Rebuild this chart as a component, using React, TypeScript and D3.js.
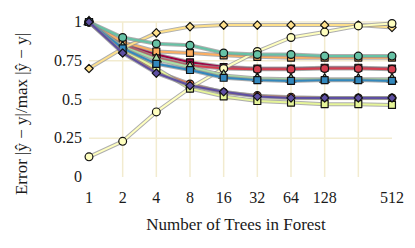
import React from "react";
import * as d3 from "d3";

const trees = [1, 2, 4, 8, 16, 32, 64, 128, 256, 512];
const tickLabels = [1, 2, 4, 8, 16, 32, 64, 128, 512];
const gridX = [2, 4, 8, 16, 32, 64, 128, 256];
const yTicks = [0, 0.25, 0.5, 0.75, 1];

const crimson = [1, 0.86, 0.79, 0.74, 0.71, 0.7, 0.7, 0.705, 0.705, 0.7];
const red = [1, 0.85, 0.77, 0.72, 0.7, 0.695, 0.695, 0.7, 0.7, 0.695];
const orangeRed = [1, 0.81, 0.68, 0.6, 0.545, 0.525, 0.515, 0.51, 0.51, 0.51];
const orange = [1, 0.87, 0.81, 0.8, 0.785, 0.775, 0.77, 0.77, 0.77, 0.77];
const gold = [0.7, 0.83, 0.93, 0.97, 0.98, 0.98, 0.98, 0.98, 0.98, 0.965];
const cream = [0.13, 0.23, 0.42, 0.575, 0.7, 0.81, 0.9, 0.935, 0.975, 0.99];
const lime = [1, 0.82, 0.7, 0.57, 0.52, 0.49, 0.48, 0.47, 0.47, 0.465];
const green = [1, 0.84, 0.76, 0.71, 0.655, 0.635, 0.63, 0.63, 0.63, 0.63];
const teal = [1, 0.9, 0.86, 0.85, 0.8, 0.79, 0.79, 0.78, 0.78, 0.78];
const blue = [1, 0.83, 0.73, 0.69, 0.64, 0.625, 0.62, 0.625, 0.625, 0.62];
const purple = [1, 0.8, 0.67, 0.59, 0.55, 0.52, 0.51, 0.51, 0.51, 0.51];

type Series = { values: number[]; color: string; mark: string };

const series: Series[] = [
  { values: crimson, color: "#9e0142", mark: "square" },
  { values: red, color: "#d53e4f", mark: "circle" },
  { values: orangeRed, color: "#f46d43", mark: "circle" },
  { values: orange, color: "#fdae61", mark: "square" },
  { values: gold, color: "#fee08b", mark: "diamond" },
  { values: cream, color: "#ffffbf", mark: "circle" },
  { values: lime, color: "#e6f598", mark: "square" },
  { values: green, color: "#abdda4", mark: "triangle" },
  { values: teal, color: "#66c2a5", mark: "circle" },
  { values: blue, color: "#3288bd", mark: "square" },
  { values: purple, color: "#5e4fa2", mark: "diamond" },
];

const W = 415;
const H = 248;
const font = "'Liberation Serif', serif";

const x = d3.scaleLog().base(2).domain([1, 512]).range([89, 392]);
const y = d3.scaleLinear().domain([0, 1]).range([177, 22]);

const symbols: Record<string, d3.SymbolType> = {
  circle: d3.symbolCircle,
  square: d3.symbolSquare,
  diamond: d3.symbolDiamond2,
  triangle: d3.symbolTriangle,
};
const sizes: Record<string, number> = {
  circle: 48,
  square: 48,
  diamond: 44,
  triangle: 42,
};

const line = d3
  .line<number>()
  .x((_, i) => x(trees[i]))
  .y((d) => y(d));

const App = () => {
  return (
    <svg
      width={W}
      height={H}
      style={{ position: "absolute", left: 0, top: 0, background: "#fff" }}
    >
      <g stroke="#f2ebcf" strokeWidth={1.5}>
        {gridX.map((t) => (
          <line key={"gx" + t} x1={x(t)} x2={x(t)} y1={y(1)} y2={y(0)} />
        ))}
        {yTicks
          .filter((t) => t > 0)
          .map((t) => (
            <line key={"gy" + t} x1={x(1)} x2={x(512)} y1={y(t)} y2={y(t)} />
          ))}
      </g>

      {series.map((s, si) => (
        <g key={si}>
          <path
            d={line(s.values) || ""}
            fill="none"
            stroke="#8c8c8c"
            strokeOpacity={0.7}
            strokeWidth={4}
            strokeLinejoin="round"
          />
          <path
            d={line(s.values) || ""}
            fill="none"
            stroke={s.color}
            strokeWidth={2}
            strokeLinejoin="round"
          />
          {s.values.map((v, i) => (
            <path
              key={i}
              transform={`translate(${x(trees[i])},${y(v)})`}
              d={d3.symbol(symbols[s.mark], sizes[s.mark])() || ""}
              fill={s.color}
              stroke="#111"
              strokeWidth={1.2}
              strokeLinejoin="round"
            />
          ))}
        </g>
      ))}

      <g fontFamily={font} fontSize={16} fill="#1a1a1a">
        {tickLabels.map((t) => (
          <text key={"xt" + t} x={x(t)} y={203} textAnchor="middle">
            {t}
          </text>
        ))}
        {yTicks.map((t) => (
          <text key={"yt" + t} x={82} y={y(t) + 5} textAnchor="end">
            {t}
          </text>
        ))}
        <text x={236} y={230} textAnchor="middle" fontSize={17}>
          Number of Trees in Forest
        </text>
        <text
          transform="translate(27,114) rotate(-90)"
          textAnchor="middle"
          fontSize={17}
        >
          Error |ŷ − y|/max |ŷ − y|
        </text>
      </g>
    </svg>
  );
};

export default App;
